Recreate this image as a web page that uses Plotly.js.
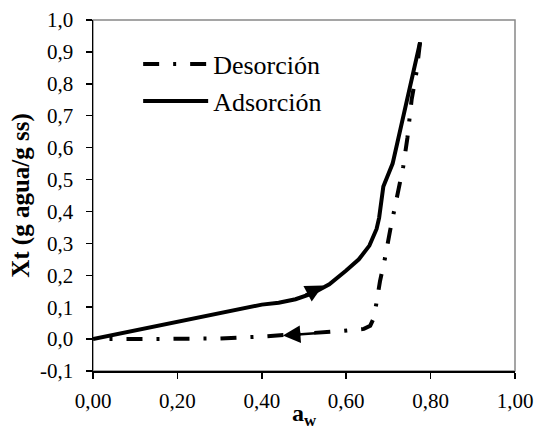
<!DOCTYPE html>
<html>
<head>
<meta charset="utf-8">
<script src="https://cdn.plot.ly/plotly-3.0.1.min.js"></script>
<style>html,body{margin:0;padding:0;background:#fff;}#chart{width:535px;height:430px;}</style>
</head>
<body>
<div id="chart"></div>
<script>
// Desorción (dash-dot) — a_w and Xt values
const desAw = [0.775, 0.767, 0.755, 0.745, 0.735, 0.724, 0.712, 0.704, 0.692, 0.680, 0.671, 0.665, 0.657, 0.642, 0.595, 0.50, 0.40, 0.30, 0.20, 0.10, 0.02];
const desXt = [0.930, 0.840, 0.750, 0.630, 0.540, 0.470, 0.400, 0.340, 0.254, 0.181, 0.108, 0.065, 0.042, 0.032, 0.026, 0.017, 0.008, 0.002, 0.000, 0.000, 0.000];
// Adsorción (solid)
const adsAw = [0.00, 0.10, 0.20, 0.30, 0.37, 0.40, 0.44, 0.48, 0.52, 0.56, 0.60, 0.63, 0.655, 0.665, 0.672, 0.678, 0.683, 0.688, 0.710, 0.740, 0.775];
const adsXt = [0.000, 0.027, 0.055, 0.083, 0.102, 0.108, 0.114, 0.125, 0.143, 0.172, 0.215, 0.250, 0.293, 0.320, 0.345, 0.380, 0.440, 0.478, 0.550, 0.720, 0.930];
// Direction arrows: [tail a_w, tail Xt, head a_w, head Xt]
const adsArrow = [0.50, 0.136, 0.545, 0.168];
const desArrow = [0.53, 0.019, 0.450, 0.011];
// Labels
const seriesNames = ["Desorción", "Adsorción"];
const xTitle = "a<sub>w</sub>";
const yTitle = "Xt (g agua/g ss)";
const yTickVals = [-0.1, 0, 0.1, 0.2, 0.3, 0.4, 0.5, 0.6, 0.7, 0.8, 0.9, 1.0];
const yTickText = ["-0,1", "0,0", "0,1", "0,2", "0,3", "0,4", "0,5", "0,6", "0,7", "0,8", "0,9", "1,0"];

const FONT = "Liberation Serif, Times New Roman, serif";

const traces = [
  {x: desAw, y: desXt, name: seriesNames[0], mode: "lines", type: "scatter",
   line: {color: "#000", width: 4, dash: "16px,14px,3px,14px"}},
  {x: adsAw, y: adsXt, name: seriesNames[1], mode: "lines", type: "scatter",
   line: {color: "#000", width: 4}}
];

function arrow(a) {
  return {x: a[2], y: a[3], ax: a[0], ay: a[1], xref: "x", yref: "y", axref: "x", ayref: "y",
    text: "", showarrow: true, arrowhead: 2, arrowsize: 1.4, arrowwidth: 2.5, arrowcolor: "#000"};
}

const layout = {
  width: 535, height: 430,
  margin: {l: 93, r: 20, t: 20, b: 59},
  paper_bgcolor: "#fff", plot_bgcolor: "#fff",
  separators: ", ",
  font: {family: FONT, color: "#000", size: 20},
  showlegend: true,
  legend: {x: 0.107, y: 0.941, xanchor: "left", yanchor: "top", bgcolor: "rgba(0,0,0,0)",
    font: {family: FONT, size: 26, color: "#000"}, itemwidth: 65, tracegroupgap: 0},
  xaxis: {range: [0, 1], dtick: 0.2, tick0: 0, tickformat: ".2f", showgrid: false, zeroline: false,
    showline: true, linecolor: "#000", linewidth: 1.5, ticks: "outside", ticklen: 6, tickwidth: 1.5, tickcolor: "#000",
    ticklabelstandoff: 4,
    tickfont: {family: FONT, size: 21, color: "#000"},
    title: {text: xTitle, font: {family: FONT, size: 24, color: "#000", weight: "bold"}, standoff: 2}},
  yaxis: {range: [-0.1, 1.0], tickmode: "array", tickvals: yTickVals, ticktext: yTickText, showgrid: false, zeroline: false,
    showline: true, linecolor: "#000", linewidth: 1.5, ticks: "outside", ticklen: 6, tickwidth: 1.5, tickcolor: "#000",
    ticklabelstandoff: 8,
    tickfont: {family: FONT, size: 21, color: "#000"},
    title: {text: yTitle, font: {family: FONT, size: 25, color: "#000", weight: "bold"}, standoff: 3}},
  shapes: [{type: "rect", xref: "paper", yref: "paper", x0: 0, x1: 1, y0: 0, y1: 1,
    line: {color: "#888", width: 1.5}, layer: "below"}],
  annotations: [arrow(adsArrow), arrow(desArrow)]
};

Plotly.newPlot("chart", traces, layout, {displayModeBar: false, staticPlot: true});
</script>
</body>
</html>
